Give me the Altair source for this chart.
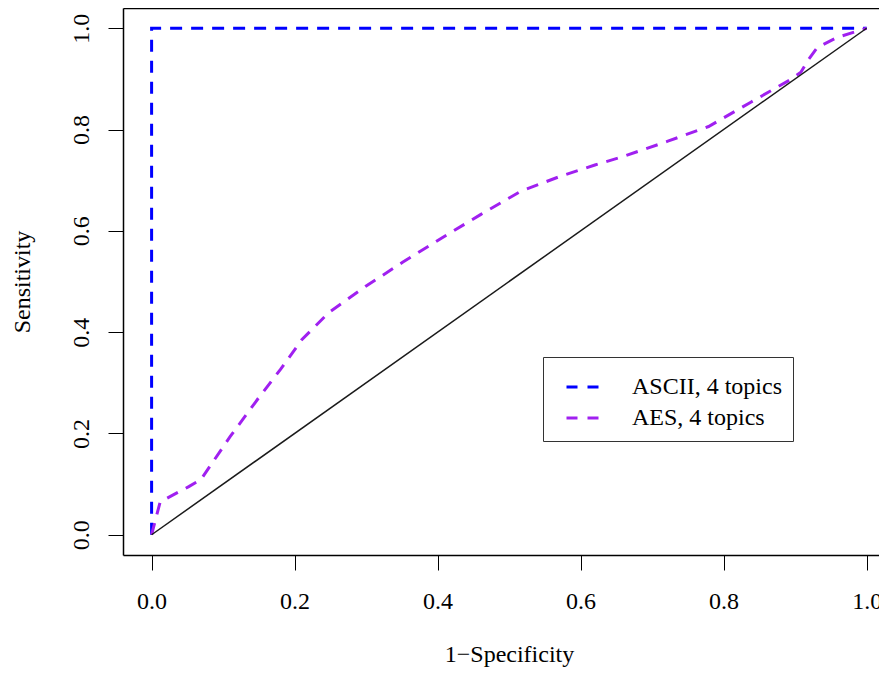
import altair as alt
import pandas as pd

# ---- data ----
series_names = ["ASCII, 4 topics", "AES, 4 topics"]
series_colors = ["#0000FF", "#A020F0"]

ascii_x = [0.0, 0.0, 1.0]
ascii_y = [0.0, 1.0, 1.0]

aes_x = [0.0, 0.012, 0.052, 0.069, 0.110, 0.148, 0.180, 0.210, 0.248, 0.299,
         0.351, 0.407, 0.460, 0.516, 0.572, 0.620, 0.660, 0.722, 0.779, 0.838,
         0.894, 0.908, 0.919, 0.931, 0.959, 1.0]
aes_y = [0.0, 0.065, 0.095, 0.109, 0.194, 0.267, 0.326, 0.385, 0.439, 0.490,
         0.538, 0.587, 0.632, 0.678, 0.708, 0.730, 0.747, 0.777, 0.806, 0.854,
         0.899, 0.913, 0.939, 0.962, 0.982, 1.0]

diag_x = [0.0, 1.0]
diag_y = [0.0, 1.0]

tick_vals = [0.0, 0.2, 0.4, 0.6, 0.8, 1.0]

rows = []
for name, xs, ys in [(series_names[0], ascii_x, ascii_y), (series_names[1], aes_x, aes_y)]:
    for i, (xv, yv) in enumerate(zip(xs, ys)):
        rows.append({"series": name, "order": i, "x": xv, "y": yv})
curves = pd.DataFrame(rows)
diag = pd.DataFrame({"x": diag_x, "y": diag_y})

FONT = "Liberation Serif"

xscale = alt.Scale(domain=[-0.04, 1.0173], nice=False, zero=False)
yscale = alt.Scale(domain=[-0.04, 1.04], nice=False, zero=False)

x_axis = alt.Axis(
    title="1\u2212Specificity", values=tick_vals, format=".1f", grid=False,
    domain=True, domainColor="black", domainWidth=1.5,
    ticks=True, tickColor="black", tickWidth=1, tickSize=15,
    labelFont=FONT, labelFontSize=24, labelColor="black", labelPadding=19,
    labelFlush=False, labelOverlap=False, labelBaseline="top",
    titleFont=FONT, titleFontSize=24, titleFontWeight="normal", titleColor="black",
    titleX=386, titleY=106, titleAlign="center", titleBaseline="alphabetic",
)
y_axis = alt.Axis(
    title="Sensitivity", values=tick_vals, format=".1f", grid=False,
    domain=True, domainColor="black", domainWidth=1.5,
    ticks=True, tickColor="black", tickWidth=1, tickSize=15,
    labelFont=FONT, labelFontSize=24, labelColor="black", labelPadding=20,
    labelAngle=270, labelAlign="center", labelBaseline="alphabetic",
    labelFlush=False, labelOverlap=False,
    titleFont=FONT, titleFontSize=24, titleFontWeight="normal", titleColor="black",
    titleAngle=270, titleX=-94, titleAlign="center", titleBaseline="alphabetic",
)

lines = alt.Chart(curves).mark_line(strokeDash=[12, 9], strokeWidth=3, clip=True).encode(
    x=alt.X("x:Q", scale=xscale, axis=x_axis),
    y=alt.Y("y:Q", scale=yscale, axis=y_axis),
    color=alt.Color(
        "series:N",
        scale=alt.Scale(domain=series_names, range=series_colors),
        legend=alt.Legend(
            orient="none", legendX=420, legendY=349, title=None,
            symbolType="stroke", symbolSize=1225, symbolStrokeWidth=3,
            symbolDash=[11, 10], symbolOffset=11,
            labelFont=FONT, labelFontSize=24, labelColor="black",
            labelOffset=29, padding=11, rowPadding=-4,
            strokeColor="#333333", fillColor="white",
        ),
    ),
    order="order:Q",
)

top_axis = alt.Axis(
    orient="top", title=None, labels=False, ticks=False, grid=False,
    domain=True, domainColor="black", domainWidth=1.5,
)

diagonal = alt.Chart(diag).mark_line(color="#1a1a1a", strokeWidth=1.5, clip=True).encode(
    x=alt.X("x:Q", scale=xscale, axis=top_axis),
    y=alt.Y("y:Q", scale=yscale),
)

chart = alt.layer(lines, diagonal).resolve_axis(x="independent").properties(
    width=756,
    height=547,
    autosize=alt.AutoSizeParams(type="none"),
    padding={"left": 115, "top": 0, "right": 0, "bottom": 112},
    background="white",
).configure_view(stroke=None)

chart.save("out.html", embed_options={"renderer": "svg", "actions": False})
